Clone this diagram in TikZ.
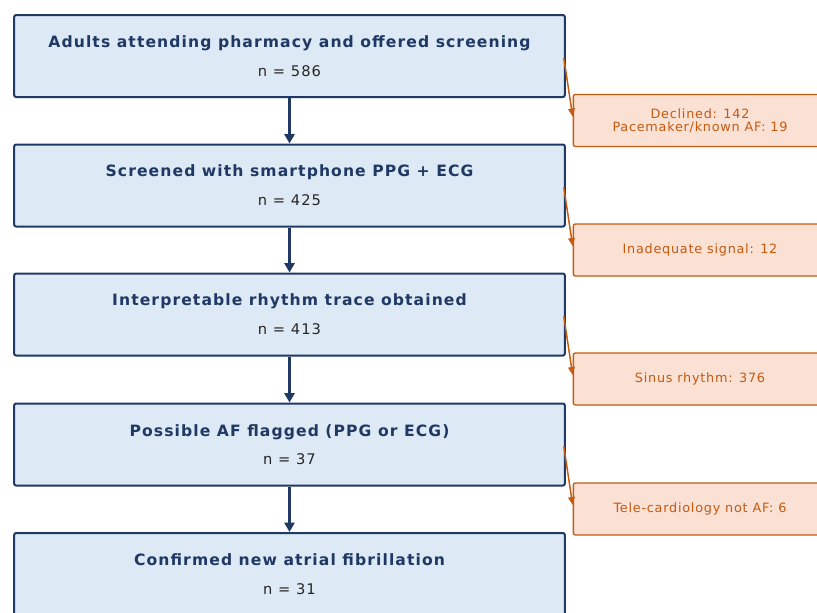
\documentclass[tikz,border=0pt]{standalone}
\usepackage{fontspec}
\setmainfont{DejaVu Sans}
\usepackage{tikz}
\usetikzlibrary{positioning, arrows.meta}

\definecolor{navy}{HTML}{1F3864}
\definecolor{boxblue}{HTML}{DDEAF5}
\definecolor{rust}{HTML}{C55A11}
\definecolor{boxpeach}{HTML}{FBE0D4}
\definecolor{darkgray}{HTML}{262626}

\tikzset{
    stagebox/.style={draw=navy, fill=boxblue, line width=1.5pt, rounded corners=1.5pt,
        minimum width=413pt, minimum height=61.5pt, align=center, inner sep=0pt},
    exclbox/.style={draw=rust, fill=boxpeach, line width=1pt, rounded corners=1.5pt,
        minimum width=190pt, minimum height=39pt, align=center, inner sep=0pt,
        text=rust, font=\fontsize{9.6}{9.8}\selectfont\addfontfeatures{LetterSpace=6}},
    flow/.style={draw=navy, line width=1.8pt, -{Triangle[length=7pt, width=7.5pt]}},
    excl/.style={draw=rust, line width=1.1pt, -{Triangle[length=6pt, width=5pt]}},
}

\newcommand{\stage}[2]{{\fontsize{11.7}{14}\selectfont\bfseries\addfontfeatures{LetterSpace=7}\color{navy}#1}\\[9.5pt]
    {\fontsize{11}{12}\selectfont\addfontfeatures{LetterSpace=7}\color{darkgray}#2}}

\begin{document}
\begin{tikzpicture}[x=0.75pt, y=-0.75pt]
        \useasboundingbox (0,0) rectangle (817,612);
        \clip (0,0) rectangle (817,612);
        % main flow
        \node[stagebox] (s1) at (289.5,56)    {\stage{Adults attending pharmacy and offered screening}{n = 586}};
        \node[stagebox] (s2) at (289.5,185.5) {\stage{Screened with smartphone PPG + ECG}{n = 425}};
        \node[stagebox] (s3) at (289.5,314.5) {\stage{Interpretable rhythm trace obtained}{n = 413}};
        \node[stagebox] (s4) at (289.5,444.5) {\stage{Possible AF flagged (PPG or ECG)}{n = 37}};
        \node[stagebox] (s5) at (289.5,574)   {\stage{Confirmed new atrial fibrillation}{n = 31}};
        % exclusions
        \node[exclbox] (x1) at (700,120.5) {Declined: 142\\Pacemaker/known AF: 19};
        \node[exclbox] (x2) at (700,250)   {Inadequate signal: 12};
        \node[exclbox] (x3) at (700,379)   {Sinus rhythm: 376};
        \node[exclbox] (x4) at (700,509)   {Tele-cardiology not AF: 6};
        \draw[flow] (s1) -- (s2);
        \draw[flow] (s2) -- (s3);
        \draw[flow] (s3) -- (s4);
        \draw[flow] (s4) -- (s5);
        \draw[excl] ([xshift=-1.5pt,yshift=-1.5pt]s1.east) -- ([yshift=3pt]x1.west);
        \draw[excl] ([xshift=-1.5pt,yshift=-1.5pt]s2.east) -- ([yshift=3pt]x2.west);
        \draw[excl] ([xshift=-1.5pt,yshift=-1.5pt]s3.east) -- ([yshift=3pt]x3.west);
        \draw[excl] ([xshift=-1.5pt,yshift=-1.5pt]s4.east) -- ([yshift=3pt]x4.west);
    \end{tikzpicture}
\end{document}
